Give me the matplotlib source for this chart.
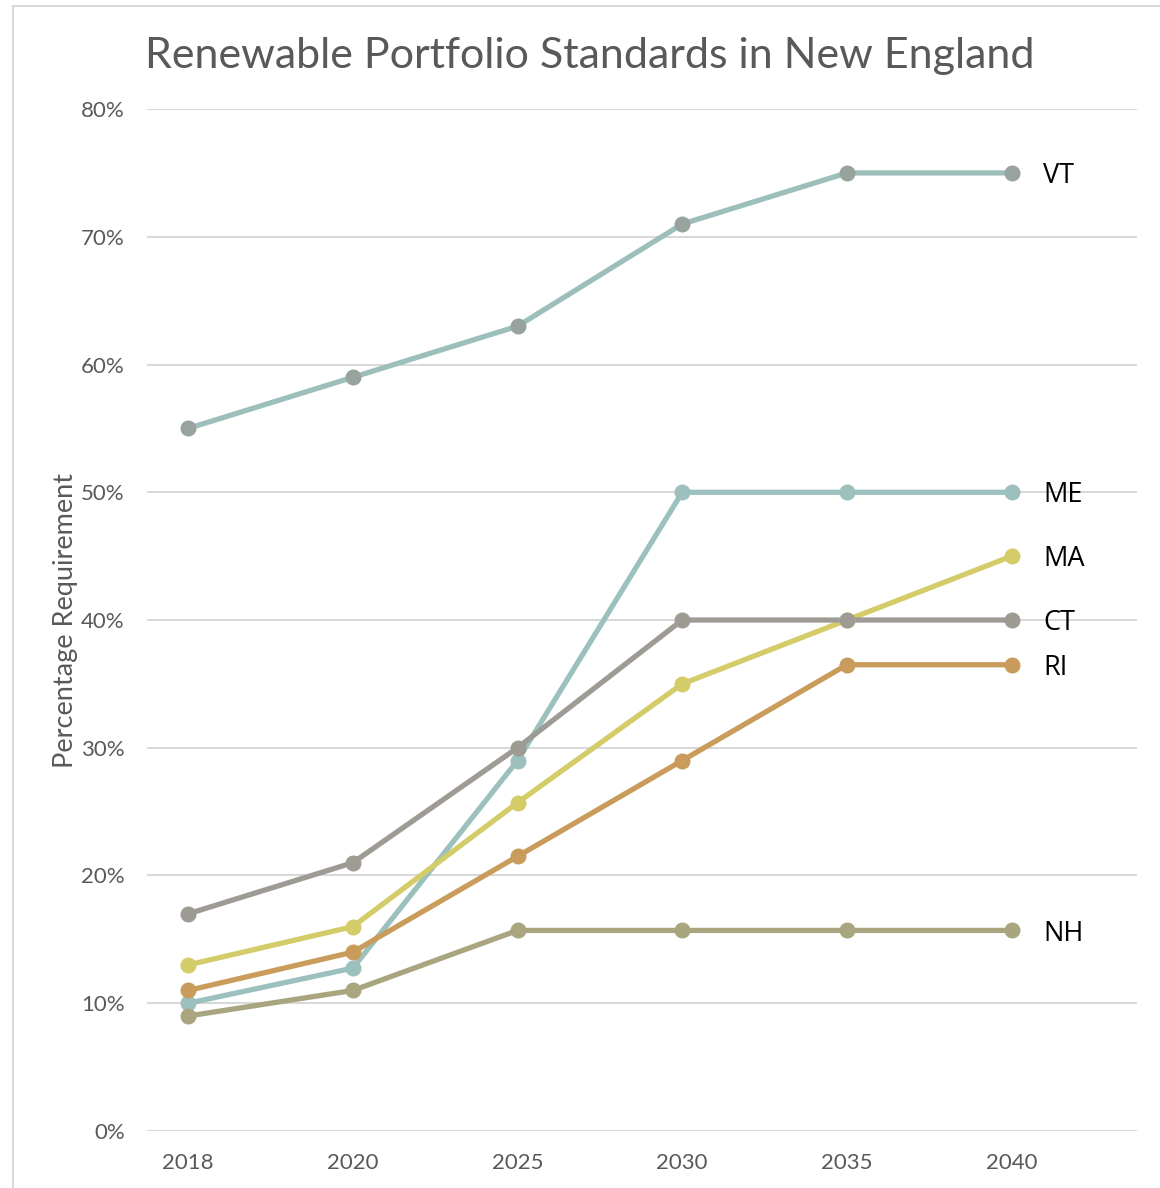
import matplotlib
matplotlib.use('Agg')
import matplotlib.pyplot as plt
from matplotlib.patches import Rectangle
from matplotlib.ticker import FuncFormatter

years = ['2018', '2020', '2025', '2030', '2035', '2040']

vt = [55, 59, 63, 71, 75, 75]
me = [10, 12.75, 29, 50, 50, 50]
ma = [13, 16, 25.7, 35, 40, 45]
ct = [17, 21, 30, 40, 40, 40]
ri = [11, 14, 21.5, 29, 36.5, 36.5]
nh = [9, 11, 15.7, 15.7, 15.7, 15.7]

# state, values, line colour, marker colour
series = [
    ('VT', vt, '#9DBFBC', '#98A39E'),
    ('ME', me, '#9BC0BE', '#9BC0BE'),
    ('MA', ma, '#D4CB69', '#D4CB69'),
    ('CT', ct, '#9E9A94', '#9E9A94'),
    ('RI', ri, '#C99C5B', '#C99C5B'),
    ('NH', nh, '#A9A67F', '#A9A67F'),
]

plt.rcParams['font.family'] = ['Lato', 'DejaVu Sans']

fig = plt.figure(figsize=(11.6, 11.88), dpi=100)
ax = fig.add_axes([0.1267, 0.048, 0.8533, 0.8602])

# light chart border (cut off on the right / bottom like the screenshot)
fig.patches.append(Rectangle((0.0112, -0.1), 1.2, 1.095, transform=fig.transFigure,
                             fill=False, edgecolor='#D9D9D9', lw=1.5))

x = list(range(len(years)))
for name, vals, lc, mc in series:
    ax.plot(x, vals, '-', color=lc, lw=3.8, zorder=3)
    ax.plot(x, vals, 'o', color=mc, ms=10.5, zorder=4)
    ax.text(x[-1] + 0.19, vals[-1] - 0.25, name, fontsize=19.5, color='black',
            ha='left', va='center', family=['Open Sans', 'DejaVu Sans'], zorder=5)

ax.set_xlim(-0.25, 5.76)
ax.set_ylim(0, 80)
ax.set_yticks(range(0, 81, 10))
ax.yaxis.set_major_formatter(FuncFormatter(lambda v, p: '%d%%' % v))
ax.set_xticks(x)
ax.set_xticklabels(years)
ax.tick_params(axis='both', length=0, labelsize=16, labelcolor='#595959')
ax.tick_params(axis='x', pad=16)
ax.tick_params(axis='y', pad=16)

ax.grid(True, axis='y', color='#D9D9D9', lw=1.5, zorder=0)
for s in ax.spines.values():
    s.set_visible(False)

ax.set_ylabel('Percentage Requirement', fontsize=19.5, color='#595959', labelpad=2)
fig.text(0.5086, 0.953, 'Renewable Portfolio Standards in New England',
         fontsize=31, color='#595959', ha='center', va='center')

fig.savefig('out.png', dpi=100)
